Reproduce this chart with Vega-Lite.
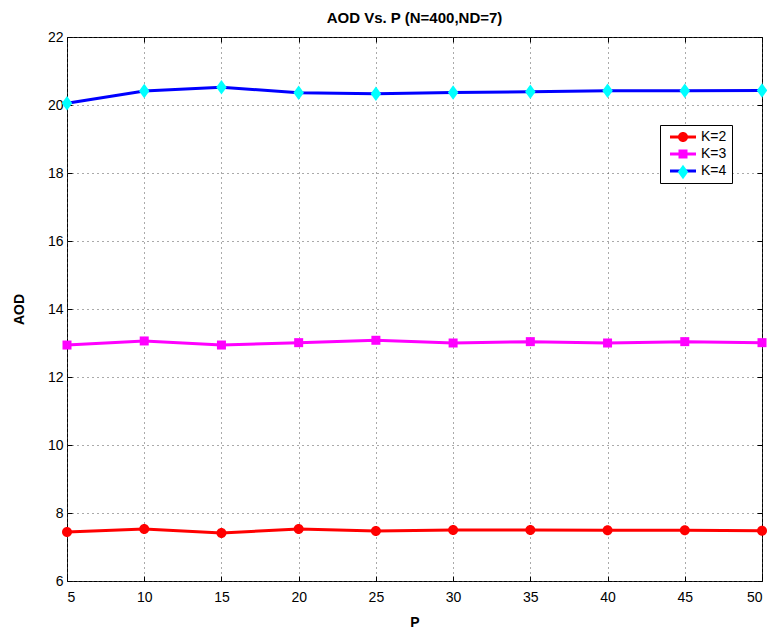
{
  "$schema": "https://vega.github.io/schema/vega-lite/v6.json",
  "width": 695,
  "height": 544,
  "autosize": "none",
  "padding": {"left": 67, "top": 37, "right": 5, "bottom": 49},
  "background": "white",
  "config": {
    "font": "Liberation Sans",
    "view": {"stroke": "black", "strokeWidth": 1},
    "axis": {
      "labelFont": "Liberation Sans",
      "labelFontSize": 14,
      "labelColor": "black",
      "titleFont": "Liberation Sans",
      "titleFontSize": 14,
      "titleFontWeight": "bold",
      "titleColor": "black",
      "domain": false,
      "tickColor": "black",
      "tickSize": -5,
      "gridColor": "#555555",
      "gridDash": [1, 4],
      "gridWidth": 1,
      "gridOpacity": 1
    }
  },
  "title": {
    "text": "AOD Vs. P (N=400,ND=7)",
    "font": "Liberation Sans",
    "fontSize": 15,
    "fontWeight": "bold",
    "color": "black",
    "offset": 4
  },
  "data": {
    "values": [
      {"P": 5, "K": "K=2", "AOD": 7.44},
      {"P": 10, "K": "K=2", "AOD": 7.53},
      {"P": 15, "K": "K=2", "AOD": 7.41},
      {"P": 20, "K": "K=2", "AOD": 7.53},
      {"P": 25, "K": "K=2", "AOD": 7.47},
      {"P": 30, "K": "K=2", "AOD": 7.5},
      {"P": 35, "K": "K=2", "AOD": 7.5},
      {"P": 40, "K": "K=2", "AOD": 7.49},
      {"P": 45, "K": "K=2", "AOD": 7.49},
      {"P": 50, "K": "K=2", "AOD": 7.48},
      {"P": 5, "K": "K=3", "AOD": 12.94},
      {"P": 10, "K": "K=3", "AOD": 13.06},
      {"P": 15, "K": "K=3", "AOD": 12.94},
      {"P": 20, "K": "K=3", "AOD": 13.01},
      {"P": 25, "K": "K=3", "AOD": 13.08},
      {"P": 30, "K": "K=3", "AOD": 13.0},
      {"P": 35, "K": "K=3", "AOD": 13.04},
      {"P": 40, "K": "K=3", "AOD": 13.0},
      {"P": 45, "K": "K=3", "AOD": 13.04},
      {"P": 50, "K": "K=3", "AOD": 13.01},
      {"P": 5, "K": "K=4", "AOD": 20.05},
      {"P": 10, "K": "K=4", "AOD": 20.41},
      {"P": 15, "K": "K=4", "AOD": 20.52},
      {"P": 20, "K": "K=4", "AOD": 20.36},
      {"P": 25, "K": "K=4", "AOD": 20.33},
      {"P": 30, "K": "K=4", "AOD": 20.37},
      {"P": 35, "K": "K=4", "AOD": 20.39},
      {"P": 40, "K": "K=4", "AOD": 20.42},
      {"P": 45, "K": "K=4", "AOD": 20.42},
      {"P": 50, "K": "K=4", "AOD": 20.43}
    ]
  },
  "resolve": {"axis": {"x": "independent", "y": "independent"}},
  "layer": [
    {
      "mark": {"type": "line", "strokeWidth": 3},
      "encoding": {
        "x": {
          "field": "P",
          "type": "quantitative",
          "scale": {"domain": [5, 50], "nice": false, "zero": false},
          "axis": {
            "values": [5, 10, 15, 20, 25, 30, 35, 40, 45, 50],
            "title": "P",
            "grid": true,
            "labelPadding": 14,
            "titlePadding": 11
          }
        },
        "y": {
          "field": "AOD",
          "type": "quantitative",
          "scale": {"domain": [6, 22], "nice": false, "zero": false},
          "axis": {
            "values": [6, 8, 10, 12, 14, 16, 18, 20, 22],
            "title": "AOD",
            "grid": true,
            "labelPadding": 9,
            "titlePadding": 21
          }
        },
        "stroke": {
          "field": "K",
          "type": "nominal",
          "scale": {"range": ["#ff0000", "#ff00ff", "#0000ff"]},
          "legend": {
            "orient": "none",
            "legendX": 593,
            "legendY": 88,
            "title": null,
            "zindex": 1,
            "symbolType": "M-2.6,0H2.6",
            "symbolSize": 100,
            "symbolStrokeWidth": 3,
            "symbolOffset": 11,
            "labelOffset": 11,
            "labelFontSize": 14,
            "labelFont": "Liberation Sans",
            "labelColor": "black",
            "labelLimit": 200,
            "labelExpr": "datum.label + '\u2003\u2003\u2003'",
            "rowPadding": 3,
            "padding": 5,
            "strokeColor": "black",
            "fillColor": "white"
          }
        }
      }
    },
    {
      "mark": {"type": "point", "filled": true, "opacity": 1, "strokeWidth": 0, "size": 100},
      "encoding": {
        "x": {
          "field": "P",
          "type": "quantitative",
          "axis": {"orient": "top", "values": [5, 10, 15, 20, 25, 30, 35, 40, 45, 50], "labels": false, "grid": false, "title": null}
        },
        "y": {
          "field": "AOD",
          "type": "quantitative",
          "axis": {"orient": "right", "values": [6, 8, 10, 12, 14, 16, 18, 20, 22], "labels": false, "grid": false, "title": null}
        },
        "fill": {
          "field": "K",
          "type": "nominal",
          "scale": {"domain": ["K=2", "K=3", "K=4"], "range": ["#ff0000", "#ff00ff", "#00ffff"]},
          "legend": {
            "orient": "none",
            "legendX": 593,
            "legendY": 88,
            "title": null,
            "zindex": 2,
            "symbolSize": 100,
            "symbolStrokeWidth": 0,
            "symbolOffset": 11,
            "labelOffset": 11,
            "labelFontSize": 14,
            "labelFont": "Liberation Sans",
            "labelColor": "black",
            "labelOpacity": 0,
            "rowPadding": 3,
            "padding": 5
          }
        },
        "shape": {
          "field": "K",
          "type": "nominal",
          "scale": {
            "domain": ["K=2", "K=3", "K=4"],
            "range": [
              "M-1,0A1,1 0 1,0 1,0A1,1 0 1,0 -1,0Z",
              "M-0.9,-0.9H0.9V0.9H-0.9Z",
              "M0,-1.45L1.05,0L0,1.45L-1.05,0Z"
            ]
          }
        }
      }
    }
  ]
}
